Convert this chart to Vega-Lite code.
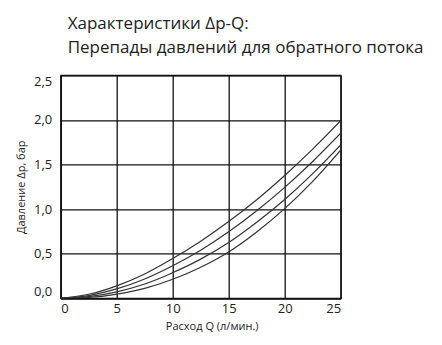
{
  "$schema": "https://vega.github.io/schema/vega-lite/v6.json",
  "autosize": "none",
  "width": 280,
  "height": 223,
  "padding": {"left": 60.7, "top": 75.3, "right": 101.3, "bottom": 46.7},
  "background": "white",
  "title": {
    "text": ["Характеристики Δp-Q:", "Перепады давлений для обратного потока"],
    "anchor": "start",
    "frame": "group",
    "font": "Open Sans",
    "fontSize": 17,
    "fontWeight": "normal",
    "color": "#222222",
    "lineHeight": 24,
    "dx": 7,
    "offset": 18
  },
  "config": {
    "view": {"stroke": "#111111", "strokeWidth": 1.3},
    "axis": {
      "gridColor": "#111111",
      "gridWidth": 1.3,
      "gridOpacity": 1,
      "domainColor": "#111111",
      "domainWidth": 1.3,
      "ticks": false,
      "labelFont": "Open Sans",
      "labelFontSize": 13,
      "labelColor": "#222222",
      "titleFont": "Open Sans",
      "titleFontSize": 11,
      "titleFontWeight": "normal",
      "titleColor": "#222222"
    }
  },
  "data": {
    "values": [
      {"Q": 0, "dp": 0, "c": "1"},
      {"Q": 2.5, "dp": 0.045, "c": "1"},
      {"Q": 5, "dp": 0.140, "c": "1"},
      {"Q": 7.5, "dp": 0.273, "c": "1"},
      {"Q": 10, "dp": 0.445, "c": "1"},
      {"Q": 12.5, "dp": 0.640, "c": "1"},
      {"Q": 15, "dp": 0.860, "c": "1"},
      {"Q": 17.5, "dp": 1.105, "c": "1"},
      {"Q": 20, "dp": 1.377, "c": "1"},
      {"Q": 22.5, "dp": 1.672, "c": "1"},
      {"Q": 25, "dp": 1.99, "c": "1"},
      {"Q": 0, "dp": 0, "c": "2"},
      {"Q": 2.5, "dp": 0.031, "c": "2"},
      {"Q": 5, "dp": 0.105, "c": "2"},
      {"Q": 7.5, "dp": 0.217, "c": "2"},
      {"Q": 10, "dp": 0.365, "c": "2"},
      {"Q": 12.5, "dp": 0.539, "c": "2"},
      {"Q": 15, "dp": 0.745, "c": "2"},
      {"Q": 17.5, "dp": 0.981, "c": "2"},
      {"Q": 20, "dp": 1.244, "c": "2"},
      {"Q": 22.5, "dp": 1.534, "c": "2"},
      {"Q": 25, "dp": 1.85, "c": "2"},
      {"Q": 0, "dp": 0, "c": "3"},
      {"Q": 2.5, "dp": 0.018, "c": "3"},
      {"Q": 5, "dp": 0.072, "c": "3"},
      {"Q": 7.5, "dp": 0.160, "c": "3"},
      {"Q": 10, "dp": 0.287, "c": "3"},
      {"Q": 12.5, "dp": 0.439, "c": "3"},
      {"Q": 15, "dp": 0.625, "c": "3"},
      {"Q": 17.5, "dp": 0.852, "c": "3"},
      {"Q": 20, "dp": 1.108, "c": "3"},
      {"Q": 22.5, "dp": 1.398, "c": "3"},
      {"Q": 25, "dp": 1.72, "c": "3"},
      {"Q": 0, "dp": 0, "c": "4"},
      {"Q": 2.5, "dp": 0.009, "c": "4"},
      {"Q": 5, "dp": 0.046, "c": "4"},
      {"Q": 7.5, "dp": 0.111, "c": "4"},
      {"Q": 10, "dp": 0.213, "c": "4"},
      {"Q": 12.5, "dp": 0.349, "c": "4"},
      {"Q": 15, "dp": 0.520, "c": "4"},
      {"Q": 17.5, "dp": 0.744, "c": "4"},
      {"Q": 20, "dp": 1.005, "c": "4"},
      {"Q": 22.5, "dp": 1.310, "c": "4"},
      {"Q": 25, "dp": 1.66, "c": "4"}
    ]
  },
  "mark": {"type": "line", "interpolate": "monotone", "color": "#333333", "strokeWidth": 1.2, "clip": true},
  "encoding": {
    "x": {
      "field": "Q",
      "type": "quantitative",
      "scale": {"domain": [0, 25], "nice": false},
      "axis": {
        "values": [0, 5, 10, 15, 20, 25],
        "title": "Расход Q (л/мин.)",
        "labelPadding": 4,
        "titlePadding": 5,
        "titleX": 151
      }
    },
    "y": {
      "field": "dp",
      "type": "quantitative",
      "scale": {"domain": [0, 2.5], "nice": false},
      "axis": {
        "values": [0, 0.5, 1, 1.5, 2, 2.5],
        "labelExpr": "replace(format(datum.value, '.1f'), '.', ',')",
        "title": "Давление Δр, бар",
        "labelPadding": 9,
        "titlePadding": 7,
        "labelFlush": true
      }
    },
    "detail": {"field": "c", "type": "nominal"}
  }
}
